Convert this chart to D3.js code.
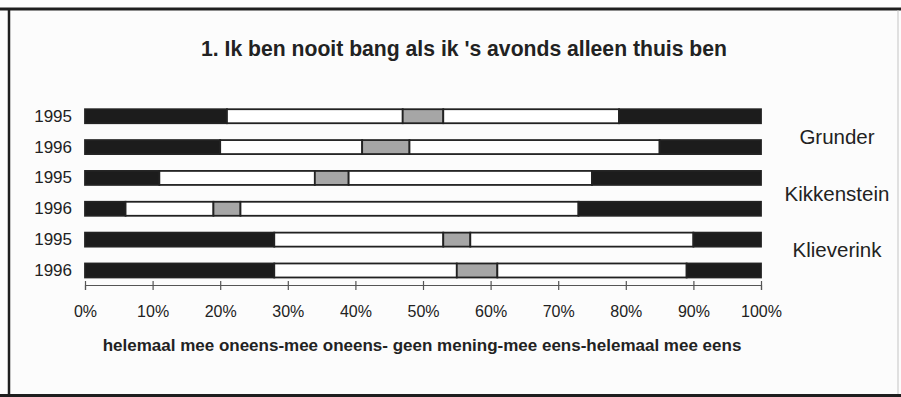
<!DOCTYPE html>
<html>
<head>
<meta charset="utf-8">
<script src="https://cdn.jsdelivr.net/npm/d3@7"></script>
<style>
  body { margin: 0; background: #ffffff; }
  svg { display: block; font-family: Arial, "Liberation Sans", sans-serif; }
</style>
</head>
<body>
<svg id="chart" width="901" height="397"></svg>
<script>
// Question and survey answers (percent of respondents per answer)
const title = "1. Ik ben nooit bang als ik 's avonds alleen thuis ben";
const groups = ["Grunder", "Kikkenstein", "Klieverink"];
const years = ["1995", "1996"];
const answerKeys = ["helemaalMeeOneens", "meeOneens", "geenMening", "meeEens", "helemaalMeeEens"];

// one value per bar: Grunder 1995, Grunder 1996, Kikkenstein 1995, Kikkenstein 1996, Klieverink 1995, Klieverink 1996
const helemaalMeeOneens = [21, 20, 11, 6, 28, 28];
const meeOneens         = [26, 21, 23, 13, 25, 27];
const geenMening        = [6, 7, 5, 4, 4, 6];
const meeEens           = [26, 37, 36, 50, 33, 28];
const helemaalMeeEens   = [21, 15, 25, 27, 10, 11];

const xTickValues = [0, 10, 20, 30, 40, 50, 60, 70, 80, 90, 100];
const answerCaption = "helemaal mee oneens-mee oneens- geen mening-mee eens-helemaal mee eens";

const seriesByKey = { helemaalMeeOneens, meeOneens, geenMening, meeEens, helemaalMeeEens };
const rows = groups.flatMap((g, gi) => years.map((yr, yi) => {
  const i = gi * years.length + yi;
  const row = { id: g + "-" + yr, group: g, year: yr };
  answerKeys.forEach(k => { row[k] = seriesByKey[k][i]; });
  return row;
}));

const fills = {
  helemaalMeeOneens: "#1c1c1c",
  meeOneens: "#ffffff",
  geenMening: "#a6a6a6",
  meeEens: "#ffffff",
  helemaalMeeEens: "#1c1c1c"
};

const svg = d3.select("#chart");
svg.append("rect").attr("width", 901).attr("height", 397).attr("fill", "#fcfcfc");

const x = d3.scaleLinear().domain([0, 100]).range([85, 761]);
const y = d3.scaleBand()
  .domain(rows.map(r => r.id))
  .range([100.8, 285.9])
  .paddingInner(0.546)
  .paddingOuter(0.273);

const stacked = d3.stack().keys(answerKeys)(rows);

// stacked bars
const layers = svg.append("g").selectAll("g")
  .data(stacked)
  .join("g")
  .attr("fill", d => fills[d.key]);

layers.selectAll("rect")
  .data(d => d)
  .join("rect")
  .attr("x", d => x(d[0]))
  .attr("y", d => y(d.data.id))
  .attr("width", d => x(d[1]) - x(d[0]))
  .attr("height", y.bandwidth())
  .attr("stroke", "#222")
  .attr("stroke-width", 1.8);

// year labels
svg.append("g").selectAll("text")
  .data(rows)
  .join("text")
  .attr("x", 72)
  .attr("y", d => y(d.id) + y.bandwidth() / 2)
  .attr("dominant-baseline", "central")
  .attr("text-anchor", "end")
  .attr("font-size", 17)
  .attr("fill", "#222")
  .text(d => d.year);

// group labels, evenly spaced around the middle pair of bars
const midGroupRows = rows.filter(r => r.group === groups[1]);
const midY = (y(midGroupRows[0].id) + y(midGroupRows[1].id) + y.bandwidth()) / 2;
svg.append("g").selectAll("text")
  .data(groups)
  .join("text")
  .attr("x", 837)
  .attr("y", (d, i) => midY + (i - 1) * 56.5)
  .attr("dominant-baseline", "central")
  .attr("text-anchor", "middle")
  .attr("font-size", 20.5)
  .attr("fill", "#222")
  .text(d => d);

// percentage axis
const axisY = 285;
const axis = svg.append("g")
  .attr("transform", `translate(0,${axisY})`)
  .call(d3.axisBottom(x)
    .tickValues(xTickValues)
    .tickFormat(d => d + "%")
    .tickSizeOuter(0)
    .tickSize(5));
axis.select(".domain").attr("stroke", "#555").attr("stroke-width", 1.2);
axis.selectAll(".tick line").attr("y1", -4).attr("y2", 5).attr("stroke", "#555").attr("stroke-width", 1.2);
axis.selectAll(".tick text")
  .attr("y", 31.7)
  .attr("dy", 0)
  .attr("font-size", 16)
  .attr("font-family", "Arial, 'Liberation Sans', sans-serif")
  .attr("fill", "#222");

// answer scale caption
svg.append("text")
  .attr("x", (x(0) + x(100)) / 2 - 1)
  .attr("y", 351)
  .attr("text-anchor", "middle")
  .attr("font-size", 17)
  .attr("font-weight", "bold")
  .attr("fill", "#222")
  .text(answerCaption);

// title
svg.append("text")
  .attr("x", 464)
  .attr("y", 56)
  .attr("text-anchor", "middle")
  .attr("font-family", "'Liberation Sans Narrow', Arial, 'Liberation Sans', sans-serif")
  .attr("font-size", 22)
  .attr("font-weight", "bold")
  .attr("fill", "#222")
  .attr("textLength", 526)
  .attr("lengthAdjust", "spacingAndGlyphs")
  .text(title);

// frame
const frame = svg.append("g").attr("fill", "none");
frame.append("line").attr("x1", 0).attr("x2", 901).attr("y1", 9).attr("y2", 9)
  .attr("stroke", "#1e1e1e").attr("stroke-width", 3);
frame.append("line").attr("x1", 9).attr("x2", 9).attr("y1", 8).attr("y2", 397)
  .attr("stroke", "#1e1e1e").attr("stroke-width", 2.5);
frame.append("line").attr("x1", 0).attr("x2", 901).attr("y1", 395.5).attr("y2", 395.5)
  .attr("stroke", "#1e1e1e").attr("stroke-width", 3);
frame.append("line").attr("x1", 898).attr("x2", 898).attr("y1", 10).attr("y2", 394)
  .attr("stroke", "#c4c4c4").attr("stroke-width", 1);
</script>
</body>
</html>
